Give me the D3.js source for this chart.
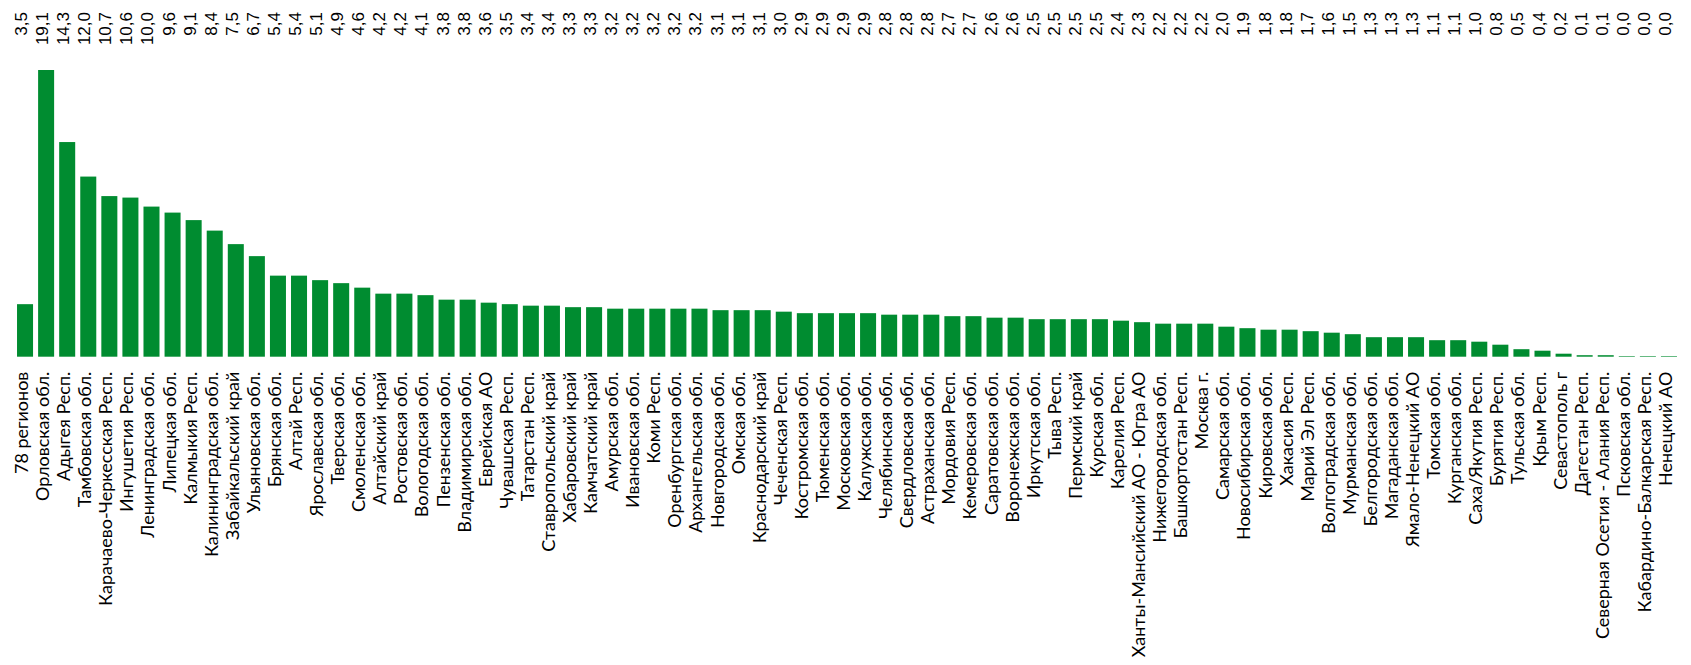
<!DOCTYPE html>
<html>
<head>
<meta charset="utf-8">
<script src="https://cdn.jsdelivr.net/npm/d3@7"></script>
<style>
  html, body { margin: 0; padding: 0; background: #ffffff; }
  svg { display: block; }
</style>
</head>
<body>
<svg id="chart" width="1691" height="665"></svg>
<script>
const categories = [
  "78 регионов", "Орловская обл.", "Адыгея Респ.", "Тамбовская обл.", "Карачаево-Черкесская Респ.",
  "Ингушетия Респ.", "Ленинградская обл.", "Липецкая обл.", "Калмыкия Респ.", "Калининградская обл.",
  "Забайкальский край", "Ульяновская обл.", "Брянская обл.", "Алтай Респ.", "Ярославская обл.",
  "Тверская обл.", "Смоленская обл.", "Алтайский край", "Ростовская обл.", "Вологодская обл.",
  "Пензенская обл.", "Владимирская обл.", "Еврейская АО", "Чувашская Респ.", "Татарстан Респ.",
  "Ставропольский край", "Хабаровский край", "Камчатский край", "Амурская обл.", "Ивановская обл.",
  "Коми Респ.", "Оренбургская обл.", "Архангельская обл.", "Новгородская обл.", "Омская обл.",
  "Краснодарский край", "Чеченская Респ.", "Костромская обл.", "Тюменская обл.", "Московская обл.",
  "Калужская обл.", "Челябинская обл.", "Свердловская обл.", "Астраханская обл.", "Мордовия Респ.",
  "Кемеровская обл.", "Саратовская обл.", "Воронежская обл.", "Иркутская обл.", "Тыва Респ.",
  "Пермский край", "Курская обл.", "Карелия Респ.", "Ханты-Мансийский АО - Югра АО", "Нижегородская обл.",
  "Башкортостан Респ.", "Москва г.", "Самарская обл.", "Новосибирская обл.", "Кировская обл.",
  "Хакасия Респ.", "Марий Эл Респ.", "Волгоградская обл.", "Мурманская обл.", "Белгородская обл.",
  "Магаданская обл.", "Ямало-Ненецкий АО", "Томская обл.", "Курганская обл.", "Саха/Якутия Респ.",
  "Бурятия Респ.", "Тульская обл.", "Крым Респ.", "Севастополь г", "Дагестан Респ.",
  "Северная Осетия - Алания Респ.", "Псковская обл.", "Кабардино-Балкарская Респ.", "Ненецкий АО"
];
const values = [
  3.5, 19.1, 14.3, 12.0, 10.7,
  10.6, 10.0, 9.6, 9.1, 8.4,
  7.5, 6.7, 5.4, 5.4, 5.1,
  4.9, 4.6, 4.2, 4.2, 4.1,
  3.8, 3.8, 3.6, 3.5, 3.4,
  3.4, 3.3, 3.3, 3.2, 3.2,
  3.2, 3.2, 3.2, 3.1, 3.1,
  3.1, 3.0, 2.9, 2.9, 2.9,
  2.9, 2.8, 2.8, 2.8, 2.7,
  2.7, 2.6, 2.6, 2.5, 2.5,
  2.5, 2.5, 2.4, 2.3, 2.2,
  2.2, 2.2, 2.0, 1.9, 1.8,
  1.8, 1.7, 1.6, 1.5, 1.3,
  1.3, 1.3, 1.1, 1.1, 1.0,
  0.8, 0.5, 0.4, 0.2, 0.1,
  0.1, 0.04, 0.04, 0.04
];

const data = categories.map((c, i) => ({ name: c, value: values[i] }));

const svg = d3.select("#chart");
const baseY = 356.7;
const topY = 70;
const barColor = "#008C30";

const x = d3.scaleBand()
  .domain(categories)
  .range([14.5, 1679.5])
  .paddingInner(0.24)
  .paddingOuter(0.12);

const y = d3.scaleLinear()
  .domain([0, d3.max(values)])
  .range([baseY, topY]);

const ruLocale = d3.formatLocale({ decimal: ",", thousands: " ", grouping: [3], currency: ["", ""] });
const fmt = ruLocale.format(".1f");

svg.append("g")
  .selectAll("rect")
  .data(data)
  .join("rect")
  .attr("x", d => x(d.name))
  .attr("width", x.bandwidth())
  .attr("y", d => y(d.value))
  .attr("height", d => baseY - y(d.value))
  .attr("fill", barColor);

// value labels at the top, rotated
svg.append("g")
  .selectAll("text")
  .data(data)
  .join("text")
  .attr("transform", d => `translate(${x(d.name) + x.bandwidth() / 2 + 2},12) rotate(-90)`)
  .attr("text-anchor", "end")
  .attr("font-family", "'Liberation Sans', Arial, sans-serif")
  .attr("font-size", 17)
  .attr("fill", "#000")
  .text(d => fmt(d.value));

// category axis labels (rotated)
const xAxis = d3.axisBottom(x).tickSize(0).tickPadding(0);
const gx = svg.append("g")
  .attr("transform", `translate(0,${baseY})`)
  .call(xAxis);
gx.select(".domain").remove();
gx.selectAll(".tick text")
  .attr("transform", "translate(3,15) rotate(-90)")
  .attr("x", 0)
  .attr("y", 0)
  .attr("dy", 0)
  .attr("text-anchor", "end")
  .attr("font-family", "Lato, 'Noto Sans', sans-serif")
  .attr("font-size", 18)
  .attr("fill", "#000");
</script>
</body>
</html>
